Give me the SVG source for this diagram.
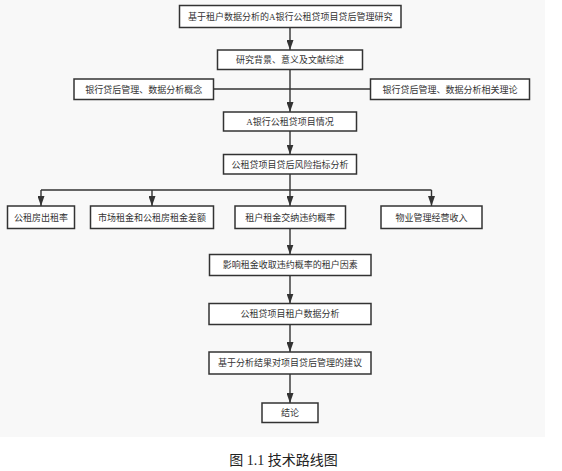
<svg xmlns="http://www.w3.org/2000/svg" width="562" height="471" viewBox="0 0 562 471">
<style>
.box{fill:#fff;stroke:#333;stroke-width:1.5}
.t{font-family:"Liberation Serif","Noto Sans CJK SC",serif;font-size:9px;fill:#333;text-anchor:middle}
.c{fill:none;stroke:#333;stroke-width:1.4}
.cap{font-family:"Liberation Serif","Noto Sans CJK SC",serif;font-size:14px;fill:#222;text-anchor:middle}
</style>
<defs>
<marker id="ah" markerUnits="userSpaceOnUse" markerWidth="10" markerHeight="7" refX="10" refY="3.5" orient="auto">
<path d="M0,0 L10,3.5 L0,7 z" fill="#333"/>
</marker>
</defs>
<rect x="0" y="0" width="545" height="437" fill="#f8f8f8"/>
<g id="connectors">
<line class="c" x1="290" y1="27.5" x2="290" y2="50" marker-end="url(#ah)"/>
<line class="c" x1="290" y1="69.5" x2="290" y2="112" marker-end="url(#ah)"/>
<line class="c" x1="213.5" y1="89" x2="370.5" y2="89"/>
<line class="c" x1="290" y1="131" x2="290" y2="154.5" marker-end="url(#ah)"/>
<line class="c" x1="290" y1="174" x2="290" y2="190"/>
<line class="c" x1="41" y1="190" x2="431.5" y2="190"/>
<line class="c" x1="41" y1="190" x2="41" y2="206" marker-end="url(#ah)"/>
<line class="c" x1="152" y1="190" x2="152" y2="206" marker-end="url(#ah)"/>
<line class="c" x1="290" y1="190" x2="290" y2="206" marker-end="url(#ah)"/>
<line class="c" x1="431.5" y1="190" x2="431.5" y2="206" marker-end="url(#ah)"/>
<line class="c" x1="290" y1="228.5" x2="290" y2="254.5" marker-end="url(#ah)"/>
<line class="c" x1="290" y1="275.5" x2="290" y2="303.5" marker-end="url(#ah)"/>
<line class="c" x1="290" y1="324.5" x2="290" y2="352" marker-end="url(#ah)"/>
<line class="c" x1="290" y1="374" x2="290" y2="403" marker-end="url(#ah)"/>
</g>
<g id="n1"><rect class="box" x="179.5" y="5.5" width="221.5" height="22"/><text class="t" x="290.25" y="19.8">基于租户数据分析的A银行公租贷项目贷后管理研究</text></g>
<g id="n2"><rect class="box" x="217.5" y="50" width="145" height="19.5"/><text class="t" x="290" y="63">研究背景、意义及文献综述</text></g>
<g id="n3"><rect class="box" x="74" y="79" width="139.5" height="20.5"/><text class="t" x="143.75" y="92.6">银行贷后管理、数据分析概念</text></g>
<g id="n4"><rect class="box" x="370.5" y="79" width="159" height="20.5"/><text class="t" x="450" y="92.6">银行贷后管理、数据分析相关理论</text></g>
<g id="n5"><rect class="box" x="223.5" y="112" width="133" height="19"/><text class="t" x="290" y="124.8">A银行公租贷项目情况</text></g>
<g id="n6"><rect class="box" x="223.5" y="154.5" width="133" height="19.5"/><text class="t" x="290" y="167.6">公租贷项目贷后风险指标分析</text></g>
<g id="n7"><rect class="box" x="7.5" y="206" width="67" height="22.5"/><text class="t" x="41" y="220.6">公租房出租率</text></g>
<g id="n8"><rect class="box" x="90.5" y="206" width="123" height="22.5"/><text class="t" x="152" y="220.6">市场租金和公租房租金差额</text></g>
<g id="n9"><rect class="box" x="235" y="206" width="110.5" height="22.5"/><text class="t" x="290.25" y="220.6">租户租金交纳违约概率</text></g>
<g id="n10"><rect class="box" x="381" y="206" width="101" height="22.5"/><text class="t" x="431.5" y="220.6">物业管理经营收入</text></g>
<g id="n11"><rect class="box" x="209.5" y="254.5" width="161.5" height="21"/><text class="t" x="290.25" y="268.4">影响租金收取违约概率的租户因素</text></g>
<g id="n12"><rect class="box" x="209" y="303.5" width="162" height="21"/><text class="t" x="290" y="317.4">公租贷项目租户数据分析</text></g>
<g id="n13"><rect class="box" x="209" y="352" width="162" height="22"/><text class="t" x="290" y="366.4">基于分析结果对项目贷后管理的建议</text></g>
<g id="n14"><rect class="box" x="262" y="403" width="56" height="19.5"/><text class="t" x="290" y="416.1">结论</text></g>
<text class="cap" x="283.5" y="465.3">图 1.1 技术路线图</text>
</svg>
